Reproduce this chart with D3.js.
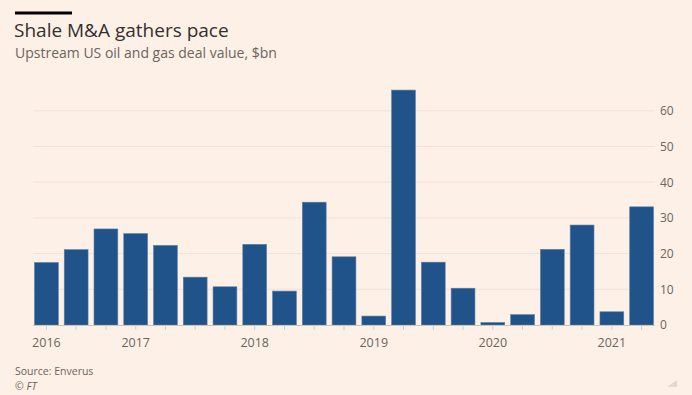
<!DOCTYPE html>
<html>
<head>
<meta charset="utf-8">
<script src="https://cdn.jsdelivr.net/npm/d3@7"></script>
<style>
  body { margin: 0; background: #fdf0e6; }
  svg { display: block; }
</style>
</head>
<body>
<div id="chart"></div>
<script>
// quarterly deal value, $bn
const quarters = ["2016Q2","2016Q3","2016Q4","2017Q1","2017Q2","2017Q3","2017Q4",
  "2018Q1","2018Q2","2018Q3","2018Q4","2019Q1","2019Q2","2019Q3","2019Q4",
  "2020Q1","2020Q2","2020Q3","2020Q4","2021Q1","2021Q2"];
const values = [17.5, 21.1, 26.9, 25.6, 22.3, 13.4, 10.7, 22.6, 9.5, 34.4, 19.1,
  2.5, 65.8, 17.6, 10.3, 0.7, 2.9, 21.2, 28.0, 3.7, 33.1];
const yearTicks = {"2016Q2": "2016", "2017Q1": "2017", "2018Q1": "2018",
  "2019Q1": "2019", "2020Q1": "2020", "2021Q1": "2021"};
const yTicks = [0, 10, 20, 30, 40, 50, 60];

const W = 692, H = 395;
const margin = {top: 111, right: 37, bottom: 70, left: 33},
  width = W - margin.left - margin.right,
  height = H - margin.top - margin.bottom;

const font = "'Open Sans', sans-serif";

const svg = d3.select("#chart").append("svg")
  .attr("width", W)
  .attr("height", H);

svg.append("rect").attr("width", W).attr("height", H).attr("fill", "#fdf0e6");

// header
svg.append("rect").attr("x", 15).attr("y", 11.5).attr("width", 57).attr("height", 3)
  .attr("fill", "#000");
svg.append("text").attr("x", 14).attr("y", 36.5)
  .style("font-family", font).style("font-size", "19px")
  .attr("fill", "#33302e").text("Shale M&A gathers pace");
svg.append("text").attr("x", 15).attr("y", 58)
  .style("font-family", font).style("font-size", "14px")
  .attr("fill", "#6b6560").text("Upstream US oil and gas deal value, $bn");

const g = svg.append("g")
  .attr("transform", "translate(" + margin.left + "," + margin.top + ")");

const x = d3.scaleBand()
  .domain(quarters)
  .range([0, width])
  .paddingInner(0.2)
  .paddingOuter(0.05);

const y = d3.scaleLinear()
  .domain([0, 60])
  .range([height, height - 60 * 3.57]);

// gridlines
g.append("g")
  .selectAll("line")
  .data(yTicks.filter(d => d > 0))
  .join("line")
    .attr("x1", 0).attr("x2", width)
    .attr("y1", d => y(d)).attr("y2", d => y(d))
    .attr("stroke", "#f2e2d6").attr("stroke-width", 1);

// y axis on the right
const yAxis = g.append("g")
  .attr("transform", "translate(" + width + ",0)")
  .call(d3.axisRight(y).tickValues(yTicks).tickSize(0).tickPadding(5));
yAxis.select(".domain").remove();
yAxis.selectAll("text")
  .style("font-family", font).style("font-size", "12px")
  .attr("fill", "#6b6560");

// bars
g.append("g")
  .selectAll("rect")
  .data(values)
  .join("rect")
    .attr("x", (d, i) => x(quarters[i]))
    .attr("y", d => y(d))
    .attr("width", x.bandwidth())
    .attr("height", d => y(0) - y(d))
    .attr("fill", "#1f5389")
    .attr("stroke", "#5a7fa6")
    .attr("stroke-width", 0.6);

// x axis
const xAxis = g.append("g")
  .attr("transform", "translate(0," + height + ")")
  .call(d3.axisBottom(x).tickSize(5).tickPadding(8)
    .tickFormat(d => yearTicks[d] || ""));
xAxis.select(".domain")
  .attr("stroke", "#cfc3b8").attr("d", "M0,0.5H" + width);
xAxis.selectAll(".tick line").attr("stroke", "#d6cbc1");
xAxis.selectAll("text")
  .style("font-family", font).style("font-size", "12.5px")
  .attr("fill", "#6b6560");

// footer
svg.append("text").attr("x", 15).attr("y", 375)
  .style("font-family", font).style("font-size", "10.5px")
  .attr("fill", "#6b6560").text("Source: Enverus");
svg.append("text").attr("x", 15).attr("y", 389.5)
  .style("font-family", font).style("font-size", "10.5px").style("font-style", "italic")
  .attr("fill", "#6b6560").text("\u00A9 FT");

// resize grip
svg.append("path").attr("d", "M677,380L677,387L667,387Z").attr("fill", "#e3d9d0");
</script>
</body>
</html>
